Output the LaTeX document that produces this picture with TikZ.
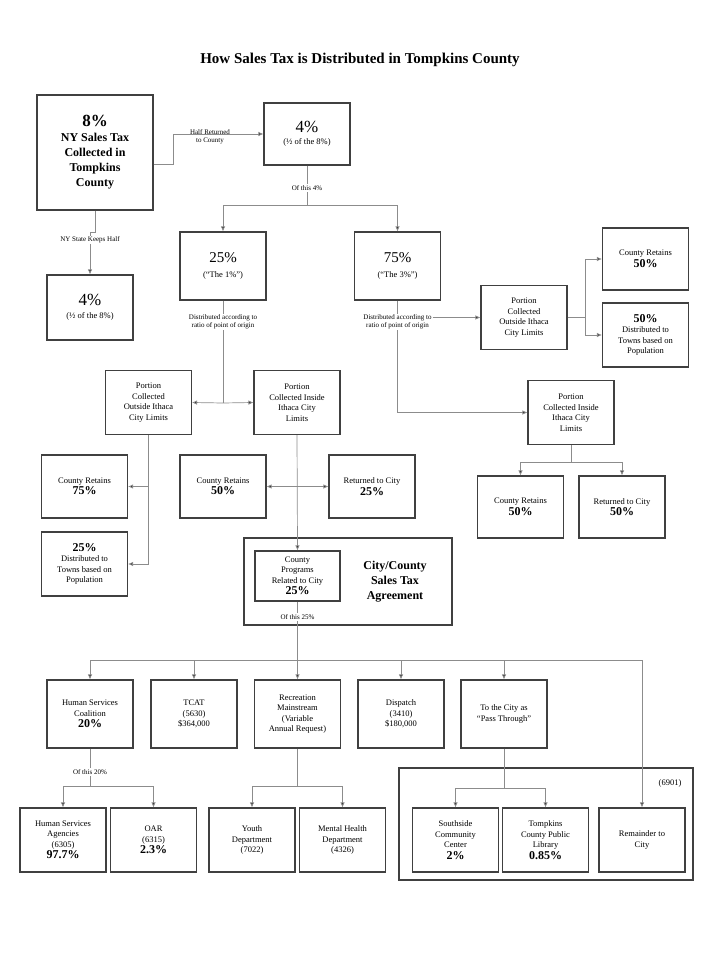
\documentclass[tikz,border=0pt]{standalone}
\usepackage{fontspec}
\setmainfont{Liberation Serif}
\usetikzlibrary{arrows.meta}
\newcommand{\pct}[1]{{\fontsize{12}{13}\selectfont\bfseries #1}}
\tikzset{
  box/.style={draw=black!75, line width=1.1pt, minimum width=86pt, minimum height=64pt, align=center, font=\fontsize{8.5}{10.5}\selectfont, inner sep=1pt},
  lnk/.style={draw=black!45, line width=0.7pt},
  arr/.style={lnk, -{Latex[length=5pt,width=4.5pt,fill=black!80]}},
  lbl/.style={font=\fontsize{7}{8.5}\selectfont, align=center, fill=white, inner sep=1pt}
}
\begin{document}
\begin{tikzpicture}[x=1pt,y=-1pt]
	\useasboundingbox (0,0) rectangle (720,957);
	\node at (360,60) [font=\fontsize{15}{17}\selectfont\bfseries]{How Sales Tax is Distributed in Tompkins County};
	% top level
	\node (tax8) at (95,152.5) [box, minimum width=116pt, minimum height=115pt, font=\fontsize{12}{15}\selectfont\bfseries]{{\fontsize{17}{19}\selectfont 8\%}\\NY Sales Tax\\Collected in\\Tompkins\\County};
	\node (half4) at (307,134) [box, minimum width=86pt, minimum height=62pt]{{\fontsize{17}{19}\selectfont 4\%}\\[2pt](½ of the 8\%)};
	\node (state4) at (90,307.5) [box, minimum height=65pt]{{\fontsize{17}{19}\selectfont 4\%}\\[2pt](½ of the 8\%)};
	\node (one) at (223,266) [box, minimum height=68pt]{{\fontsize{15}{17}\selectfont 25\%}\\[4pt](``The 1\%'')};
	\node (three) at (397.5,266) [box, minimum height=68pt]{{\fontsize{15}{17}\selectfont 75\%}\\[4pt](``The 3\%'')};
	% the 1%
	\node (outL) at (148.5,402.5) [box]{Portion\\Collected\\Outside Ithaca\\City Limits};
	\node (inL) at (297,402.5) [box]{Portion\\Collected Inside\\Ithaca City\\Limits};
	\node (ret75) at (84.5,486.5) [box, minimum height=63pt]{County Retains\\[1pt]\pct{75\%}};
	\node (town25) at (84.5,564) [box]{\pct{25\%}\\Distributed to\\Towns based on\\Population};
	\node (ret50m) at (223,486.5) [box, minimum height=63pt]{County Retains\\[1pt]\pct{50\%}};
	\node (city25) at (372,486.5) [box, minimum height=63pt]{Returned to City\\[1pt]\pct{25\%}};
	\node (agree) at (348,581.5) [box, minimum width=208pt, minimum height=87pt]{};
	\node (progs) at (297.5,576) [box, minimum width=85pt, minimum height=50pt]{County\\Programs\\Related to City\\[1pt]\pct{25\%}};
	\node at (395,582) [font=\fontsize{12}{15}\selectfont\bfseries, align=center]{City/County\\Sales Tax\\Agreement};
	% the 3%
	\node (outR) at (524,317.5) [box]{Portion\\Collected\\Outside Ithaca\\City Limits};
	\node (retR) at (645.5,259) [box, minimum height=62pt]{County Retains\\[1pt]\pct{50\%}};
	\node (townR) at (645.5,335) [box]{\pct{50\%}\\Distributed to\\Towns based on\\Population};
	\node (inR) at (571,412.5) [box]{Portion\\Collected Inside\\Ithaca City\\Limits};
	\node (retB) at (520.5,507) [box, minimum height=62pt]{County Retains\\[1pt]\pct{50\%}};
	\node (cityB) at (622,507) [box, minimum height=62pt]{Returned to City\\[1pt]\pct{50\%}};
	% of this 25%
	\node (hsc) at (90,714) [box, minimum height=68pt]{Human Services\\Coalition\\[1pt]\pct{20\%}};
	\node (tcat) at (194,714) [box, minimum height=68pt]{TCAT\\(5630)\\\$364,000};
	\node (rec) at (297.5,714) [box, minimum height=68pt]{Recreation\\Mainstream\\(Variable\\Annual Request)};
	\node (disp) at (401,714) [box, minimum height=68pt]{Dispatch\\(3410)\\\$180,000};
	\node (pass) at (504,714) [box, minimum height=68pt]{To the City as\\``Pass Through''};
	\node (grp) at (546,824) [box, minimum width=294pt, minimum height=112pt]{};
	\node at (670,783) [font=\fontsize{8.5}{10}\selectfont]{(6901)};
	\node (hsa) at (63,840) [box]{Human Services\\Agencies\\(6305)\\[1pt]\pct{97.7\%}};
	\node (oar) at (153.5,840) [box]{OAR\\(6315)\\[1pt]\pct{2.3\%}};
	\node (youth) at (252,840) [box]{Youth\\Department\\(7022)};
	\node (mental) at (342.5,840) [box]{Mental Health\\Department\\(4326)};
	\node (south) at (455.5,840) [box]{Southside\\Community\\Center\\[1pt]\pct{2\%}};
	\node (library) at (545.5,840) [box]{Tompkins\\County Public\\Library\\[1pt]\pct{0.85\%}};
	\node (rest) at (642,840) [box]{Remainder to\\City};
	% connectors, top
	\draw [arr] ([yshift=-12pt]tax8.east) -- ++(20,0) |- (half4.west);
	\node at (210,137) [lbl, fill=none]{Half Returned\\to County};
	\draw [arr] (tax8.south) -- ++(0,22) -| (state4.north);
	\node at (90,240) [lbl]{NY State Keeps Half};
	\draw [lnk] (half4.south) -- (307,205);
	\draw [arr] (307,205) -| (one.north);
	\draw [arr] (307,205) -| (three.north);
	\node at (307,188) [lbl]{Of this 4\%};
	% the 1%
	\draw [lnk] (one.south) -- (223,403);
	\draw [arr] (223,403) -- (outL.east);
	\draw [arr] (223,403) -- (inL.west);
	\node at (223,322) [lbl]{Distributed according to\\ratio of point of origin};
	\draw [lnk] (outL.south) -- (148.5,564);
	\draw [arr] (148.5,486.5) -- (ret75.east);
	\draw [arr] (148.5,564) -- (town25.east);
	\draw [arr] (inL.south) -- (progs.north);
	\draw [arr] (297,486.5) -- (ret50m.east);
	\draw [arr] (297,486.5) -- (city25.west);
	% the 3%
	\draw [arr] (three.south) |- (inR.west);
	\node (dist75) at (397.5,322) [lbl]{Distributed according to\\ratio of point of origin};
	\draw [arr] (dist75.east |- outR.west) -- (outR.west);
	\draw [lnk] (outR.east) -- (585,317.5);
	\draw [arr] (585,317.5) |- (retR.west);
	\draw [arr] (585,317.5) |- (townR.west);
	\draw [lnk] (inR.south) -- (571,462);
	\draw [arr] (571,462) -| (retB.north);
	\draw [arr] (571,462) -| (cityB.north);
	% of this 25%
	\draw [lnk] (progs.south) -- (297.5,660);
	\node at (297.5,617) [lbl]{Of this 25\%};
	\foreach \n in {hsc,tcat,rec,disp,pass,rest}
		\draw [arr] (297.5,660) -| (\n.north);
	\draw [lnk] (hsc.south) -- (90,786);
	\node at (90,772) [lbl]{Of this 20\%};
	\draw [arr] (90,786) -| (hsa.north);
	\draw [arr] (90,786) -| (oar.north);
	\draw [lnk] (rec.south) -- (297.5,786);
	\draw [arr] (297.5,786) -| (youth.north);
	\draw [arr] (297.5,786) -| (mental.north);
	\draw [lnk] (pass.south) -- (504,788);
	\draw [arr] (504,788) -| (south.north);
	\draw [arr] (504,788) -| (library.north);
\end{tikzpicture}
\end{document}
